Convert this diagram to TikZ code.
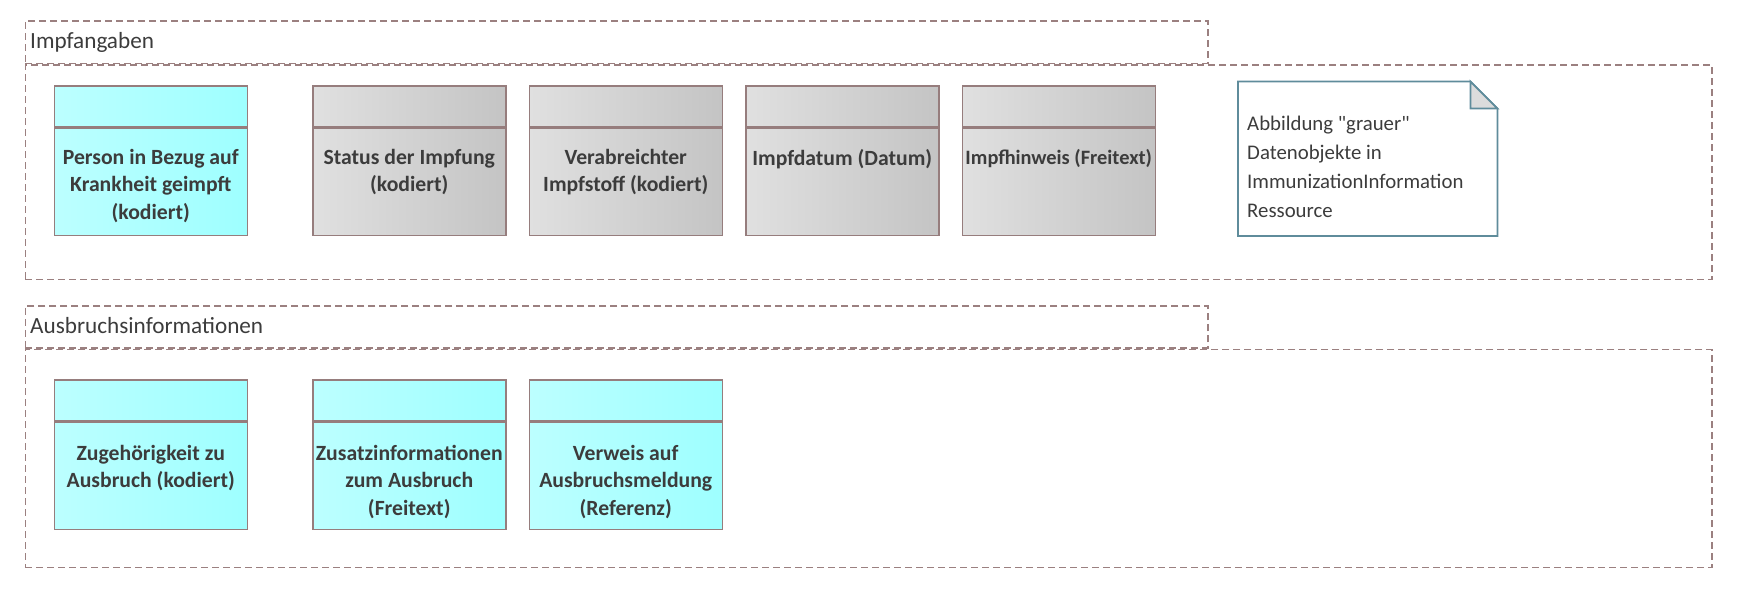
\documentclass[tikz,border=0pt]{standalone}
\usepackage{fontspec}
\setmainfont{Carlito}
\newfontfamily\notefont{Carlito}
\usetikzlibrary{positioning,calc}

\definecolor{txtgray}{RGB}{60,60,60}
\definecolor{framegray}{RGB}{155,128,128}
\definecolor{boxline}{RGB}{150,125,125}
\definecolor{cyanL}{RGB}{188,255,255}
\definecolor{cyanR}{RGB}{158,255,255}
\definecolor{grayL}{RGB}{224,224,224}
\definecolor{grayR}{RGB}{196,196,196}
\definecolor{noteline}{RGB}{95,140,155}
\definecolor{foldgray}{RGB}{220,220,220}

\begin{document}
\begin{tikzpicture}[x=1pt,y=-1pt,node distance=22pt,
  every node/.style={text=txtgray},
  grpframe/.style={draw=framegray,line width=1.6pt,dash pattern=on 7pt off 4pt,inner sep=0pt,anchor=north west},
  grplabel/.style={font=\fontsize{23.2}{27}\selectfont,anchor=base west,inner sep=0pt},
  entity/.style={draw=boxline,line width=1.5pt,minimum width=193pt,minimum height=149.5pt,inner sep=0pt,anchor=north west,
    path picture={\draw[boxline,line width=3pt] ([yshift=-42pt]path picture bounding box.north west) -- ([yshift=-42pt]path picture bounding box.north east);}},
  cyanbox/.style={entity,left color=cyanL,right color=cyanR},
  graybox/.style={entity,left color=grayL,right color=grayR},
  entitytext/.style={font=\bfseries\fontsize{21.7}{27.5}\selectfont,align=center,inner sep=0pt},
  notebox/.style={minimum width=259pt,minimum height=154pt,inner sep=0pt,anchor=north west},
  notetext/.style={font=\notefont\fontsize{20.8}{29}\selectfont,align=left,inner sep=0pt},
  noteborder/.style={draw=noteline,line width=1.8pt,line join=miter}]
  \useasboundingbox (0,0) rectangle (1738,598);

  % Impfangaben
  \node[grpframe,minimum width=1182.5pt,minimum height=42.5pt] (impf-tab) at (24.5,20) {};
  \node[grpframe,minimum width=1686.5pt,minimum height=214.5pt] (impf-frame) at (impf-tab.south west) {};
  \node[grplabel] (impf-label) at ([xshift=5.5pt,yshift=-28pt]impf-tab.north west) {Impfangaben};

  \node[cyanbox] (person) at (53.5,85) {};
  \node[graybox,right=64pt of person] (status) {};
  \node[graybox,right=of status] (vaccine) {};
  \node[graybox,right=of vaccine] (date) {};
  \node[graybox,right=of date] (hint) {};

  \node[entitytext,below=64pt of person.north] (person-text) {Person in Bezug auf\\Krankheit geimpft\\(kodiert)};
  \node[entitytext,below=64pt of status.north] (status-text) {Status der Impfung\\(kodiert)};
  \node[entitytext,below=64pt of vaccine.north] (vaccine-text) {Verabreichter\\Impfstoff (kodiert)};
  \node[entitytext,below=64pt of date.north] (date-text) {Impfdatum (Datum)};
  \node[entitytext,font=\bfseries\fontsize{20.4}{27.5}\selectfont,below=64pt of hint.north] (hint-text) {Impfhinweis (Freitext)};

  % Notiz
  \node[notebox] (note) at (1238,81.5) {};
  \draw[noteborder] (note.north west) -- ([xshift=-27pt]note.north east) -- ([yshift=-27pt]note.north east)
    -- (note.south east) -- (note.south west) -- cycle;
  \filldraw[noteborder,fill=foldgray] ([xshift=-27pt]note.north east) -- ([xshift=-27pt,yshift=-27pt]note.north east)
    -- ([yshift=-27pt]note.north east) -- cycle;
  \node[notetext,anchor=north west,below right=34pt and 9pt of note.north west] (note-text)
    {Abbildung "grauer"\\Datenobjekte in\\ImmunizationInformation\\Ressource};

  % Ausbruchsinformationen
  \node[grpframe,minimum width=1182.5pt,minimum height=42pt] (outb-tab) at (24.5,305) {};
  \node[grpframe,minimum width=1686.5pt,minimum height=218pt] (outb-frame) at (outb-tab.south west) {};
  \node[grplabel] (outb-label) at ([xshift=5.5pt,yshift=-28pt]outb-tab.north west) {Ausbruchsinformationen};

  \node[cyanbox,below=143pt of person] (member) {};
  \node[cyanbox,right=64pt of member] (extra) {};
  \node[cyanbox,right=of extra] (report) {};

  \node[entitytext,below=66pt of member.north] (member-text) {Zugehörigkeit zu\\Ausbruch (kodiert)};
  \node[entitytext,below=66pt of extra.north] (extra-text) {Zusatzinformationen\\zum Ausbruch\\(Freitext)};
  \node[entitytext,below=66pt of report.north] (report-text) {Verweis auf\\Ausbruchsmeldung\\(Referenz)};
\end{tikzpicture}
\end{document}
